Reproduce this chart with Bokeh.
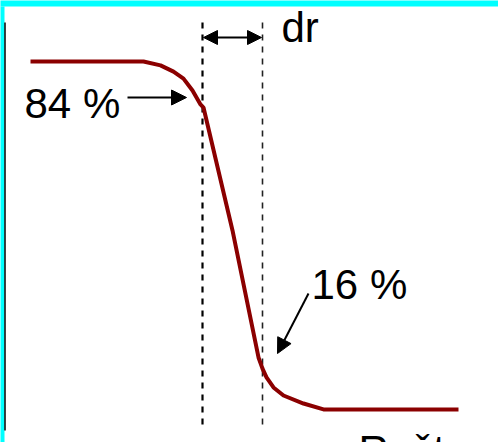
from bokeh.plotting import figure
from bokeh.models import Range1d, Arrow, NormalHead
from bokeh.core.properties import value
from bokeh.embed import file_html
from bokeh.resources import INLINE

# Schematic profile: radius (arbitrary units) vs. level in %
r_vals = [30, 143, 160, 173, 183, 192, 200, 203, 232, 258, 262, 266, 273, 283, 303, 323, 458]
level_vals = [100, 100, 98.9, 97.1, 95.1, 91.7, 87.7, 86.8, 51.6, 15.2, 12.0, 9.5, 6.6, 4.3, 2.0, 0.3, 0.3]

# Radii of the 84 % and 16 % points (the dashed markers)
r_marks = [202, 262]
mark_dash = ["6 6", "6 6"]
mark_width = [2.2, 1.6]
mark_color = ["black", "#222222"]

labels = ["84 %", "dr", "16 %", "Rošt"]
label_r = [24, 281, 311, 358]
label_level = [87.9, 109.7, 36.0, -11.6]

W, H = 498, 442
PX = 3.49  # pixels per % unit
y0 = 410   # pixel row of 0 %

p = figure(width=W, height=H, output_backend="svg", toolbar_location=None,
           x_range=Range1d(0, W), y_range=Range1d(-(H - y0) / PX, y0 / PX),
           min_border=0, min_border_left=0, min_border_right=0,
           min_border_top=0, min_border_bottom=0)
p.styles = {"margin-left": "0px", "margin-top": "0px"}
p.axis.visible = False
p.grid.visible = False
p.outline_line_color = None
p.background_fill_color = "white"
p.border_fill_color = "white"

def lv(py):
    return (y0 - py) / PX

# frame decorations: cyan bands and left black rule
p.quad(left=-5, right=W + 5, bottom=lv(6), top=lv(-10), fill_color="#00ffff", line_color=None)
p.quad(left=-5, right=4, bottom=lv(H + 10), top=lv(6), fill_color="#00ffff", line_color=None)
p.segment(x0=[4.5], y0=[lv(22)], x1=[4.5], y1=[lv(430)], line_color="black", line_width=1.5)

# dashed markers
for rx, d, w, c in zip(r_marks, mark_dash, mark_width, mark_color):
    p.segment(x0=[rx], y0=[lv(22)], x1=[rx], y1=[lv(428)], line_color=c,
              line_width=w, line_dash=d)

# profile curve
p.line(r_vals, level_vals, line_color="#8b0000", line_width=4, line_join="round")

# dr double arrow
p.add_layout(Arrow(start=NormalHead(size=14, fill_color="black", line_color="black"),
                   end=NormalHead(size=14, fill_color="black", line_color="black"),
                   x_start=r_marks[0] + 1, y_start=lv(37), x_end=r_marks[1] - 1, y_end=lv(37),
                   line_color="black", line_width=2))
# 84 % arrow
p.add_layout(Arrow(end=NormalHead(size=15, fill_color="black", line_color="black"),
                   x_start=127, y_start=lv(97), x_end=186, y_end=lv(97),
                   line_color="black", line_width=2))
# 16 % arrow
p.add_layout(Arrow(end=NormalHead(size=15, fill_color="black", line_color="black"),
                   x_start=308, y_start=lv(293), x_end=277, y_end=lv(353),
                   line_color="black", line_width=2))

p.text(x=label_r, y=label_level, text=labels, text_font=value("Liberation Sans"),
       text_font_size="42px", text_color="black", text_align="left",
       text_baseline="alphabetic")

open("out.html", "w").write(file_html(p, INLINE))
